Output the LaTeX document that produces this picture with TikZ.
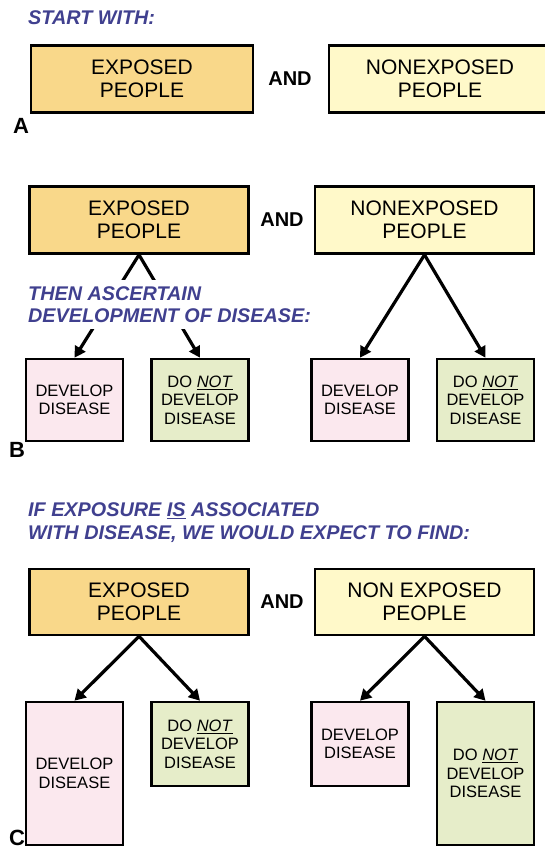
\documentclass[tikz,border=0pt]{standalone}
\usepackage{fontspec}
\setmainfont{Liberation Sans}
\usepackage{tikz}
\usetikzlibrary{arrows.meta}
\definecolor{cue}{HTML}{40408F}
\definecolor{exposed}{HTML}{F9D88A}
\definecolor{unexposed}{HTML}{FFF9C9}
\definecolor{ill}{HTML}{FBE8EE}
\definecolor{well}{HTML}{E6EDC9}

\begin{document}
\begin{tikzpicture}[x=1pt,y=-1pt,
  group/.style={draw=black,line width=2.6pt,minimum width=219pt,minimum height=67pt,align=center,font=\fontsize{21}{23}\selectfont},
  outcome/.style={draw=black,line width=2.6pt,minimum width=97pt,align=center,font=\fontsize{16.5}{18.5}\selectfont},
  cuetext/.style={text=cue,anchor=west,align=left,inner sep=0pt,font=\bfseries\itshape\fontsize{19.8}{22.5}\selectfont},
  andword/.style={font=\bfseries\fontsize{20}{20}\selectfont},
  panel/.style={font=\bfseries\fontsize{22}{22}\selectfont},
  leads/.style={line width=3.2pt,-{Triangle[length=11pt,width=12pt]}}]
\clip (0,0) rectangle (545,851);
\fill[white] (0,0) rectangle (545,851);
% A: the two groups
\node[cuetext] (startcue) at (28,18) {START WITH:};
\node[group,fill=exposed,minimum width=222pt] (expA) at (142,79) {EXPOSED\\PEOPLE};
\node[andword] (andA) at (290,79) {AND};
\node[group,fill=unexposed,minimum width=222pt] (nonA) at (440,79) {NONEXPOSED\\PEOPLE};
\node[panel] (tagA) at (21,126) {A};
% B: follow each group up
\node[group,fill=exposed] (expB) at (139,220) {EXPOSED\\PEOPLE};
\node[andword] (andB) at (282,220) {AND};
\node[group,fill=unexposed] (nonB) at (424.5,220) {NONEXPOSED\\PEOPLE};
\foreach \x/\k in {74.5/L,360/R} {
  \node[outcome,fill=ill,minimum height=82pt] (illB\k) at (\x,400) {DEVELOP\\DISEASE};
  \node[outcome,fill=well,minimum height=82pt] (wellB\k) at (\x+125.5,400) {DO \underline{\textit{NOT}}\\DEVELOP\\DISEASE};
}
\draw[leads] (expB.south) -- (illBL.north);
\draw[leads] (expB.south) -- (wellBL.north);
\draw[leads] (nonB.south) -- (illBR.north);
\draw[leads] (nonB.south) -- (wellBR.north);
\node[cuetext,fill=white,inner xsep=2pt,inner ysep=6pt] (thencue) at (26,304.5) {THEN ASCERTAIN\\DEVELOPMENT OF DISEASE:};
\node[panel] (tagB) at (17,450) {B};
% C: what an association would look like
\node[cuetext] (ifcue) at (28,522.5) {IF EXPOSURE \underline{IS} ASSOCIATED\\WITH DISEASE, WE WOULD EXPECT TO FIND:};
\node[group,fill=exposed,minimum height=66pt] (expC) at (139,602) {EXPOSED\\PEOPLE};
\node[andword] (andC) at (282,602) {AND};
\node[group,fill=unexposed,minimum height=66pt] (nonC) at (424.5,602) {NON EXPOSED\\PEOPLE};
\node[outcome,fill=ill,minimum height=143pt] (illCL) at (74.5,773.5) {DEVELOP\\DISEASE};
\node[outcome,fill=well,minimum height=84pt] (wellCL) at (200,744) {DO \underline{\textit{NOT}}\\DEVELOP\\DISEASE};
\node[outcome,fill=ill,minimum height=84pt] (illCR) at (360,744) {DEVELOP\\DISEASE};
\node[outcome,fill=well,minimum height=143pt] (wellCR) at (485.5,773.5) {DO \underline{\textit{NOT}}\\DEVELOP\\DISEASE};
\draw[leads] (expC.south) -- (illCL.north);
\draw[leads] (expC.south) -- (wellCL.north);
\draw[leads] (nonC.south) -- (illCR.north);
\draw[leads] (nonC.south) -- (wellCR.north);
\node[panel] (tagC) at (17,838) {C};
\end{tikzpicture}
\end{document}
